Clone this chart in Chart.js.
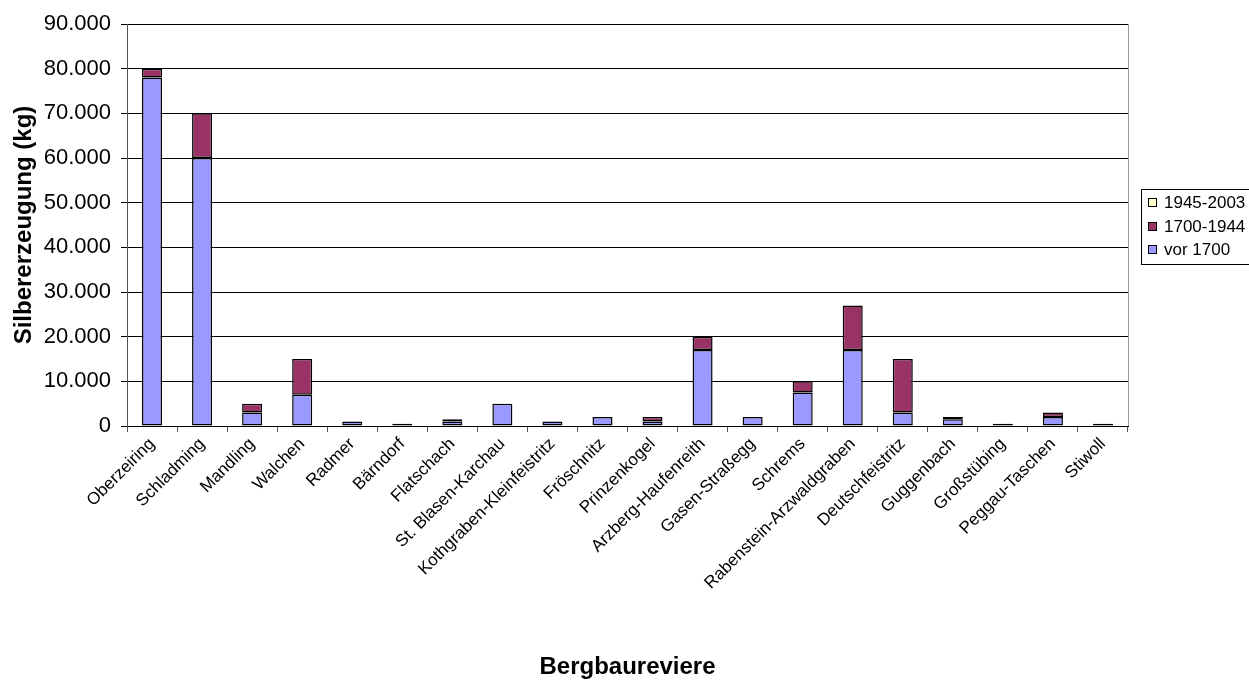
<!DOCTYPE html>
<html>
<head>
<meta charset="utf-8">
<title>Silbererzeugung nach Bergbaurevieren</title>
<script src="https://cdn.jsdelivr.net/npm/chart.js@4/dist/chart.umd.min.js"></script>
<style>
  html, body { margin: 0; padding: 0; background: #fff; }
  #wrap { width: 1249px; height: 682px; }
</style>
</head>
<body>
<div id="wrap"><canvas id="c" width="1249" height="682"></canvas></div>
<script>
// Bergbaureviere (Kategorien)
const reviere = ['Oberzeiring', 'Schladming', 'Mandling', 'Walchen', 'Radmer', 'Bärndorf',
  'Flatschach', 'St. Blasen-Karchau', 'Kothgraben-Kleinfeistritz', 'Fröschnitz',
  'Prinzenkogel', 'Arzberg-Haufenreith', 'Gasen-Straßegg', 'Schrems',
  'Rabenstein-Arzwaldgraben', 'Deutschfeistritz', 'Guggenbach', 'Großstübing',
  'Peggau-Taschen', 'Stiwoll'];

// Silbererzeugung in kg je Zeitraum
const vor1700   = [78000, 60000, 3000, 7000, 1000, 500, 1000, 5000, 1000, 2000,
                   1000, 17000, 2000, 7500, 17000, 3000, 1500, 0, 2000, 500];
const von1700   = [2000, 10000, 2000, 8000, 0, 0, 500, 0, 0, 0,
                   1000, 3000, 0, 2500, 10000, 12000, 500, 500, 1000, 0];
const von1945   = [0, 0, 0, 0, 0, 0, 0, 0, 0, 0,
                   0, 0, 0, 0, 0, 0, 0, 0, 0, 0];

const yTicks = [0, 10000, 20000, 30000, 40000, 50000, 60000, 70000, 80000, 90000];

const FONT = '"Liberation Sans", Arial, Helvetica, sans-serif';

const fmt = v => String(v).replace(/\B(?=(\d{3})+(?!\d))/g, '.');

const datasets = [
  { label: 'vor 1700',  data: vor1700, backgroundColor: '#9999FF' },
  { label: '1700-1944', data: von1700, backgroundColor: '#993366' },
  { label: '1945-2003', data: von1945, backgroundColor: '#FFFFCC' }
].map(d => Object.assign(d, {
  borderColor: '#000000',
  borderWidth: 1.5,
  borderSkipped: false,
  categoryPercentage: 1.0,
  barPercentage: 0.4
}));

// Rahmen rechts am Diagramm und Legende mit Kasten
const frameAndLegend = {
  id: 'frameAndLegend',
  afterDraw(chart) {
    const ctx = chart.ctx;
    const a = chart.chartArea;
    ctx.save();
    ctx.strokeStyle = '#9a9a9a';
    ctx.lineWidth = 1;
    ctx.beginPath();
    ctx.moveTo(a.right + 0.5, a.top);
    ctx.lineTo(a.right + 0.5, a.bottom);
    ctx.stroke();

    const items = chart.data.datasets.slice().reverse();
    const bx = 1141, by = 189, bw = 130, rowH = 23.5;
    const bh = 75;
    ctx.strokeStyle = '#000';
    ctx.lineWidth = 1;
    ctx.strokeRect(bx + 0.5, by + 0.5, bw, bh);
    ctx.font = '17px ' + FONT;
    ctx.textBaseline = 'middle';
    items.forEach((ds, i) => {
      const cy = Math.round(by + 13 + i * rowH);
      ctx.fillStyle = ds.backgroundColor;
      ctx.fillRect(bx + 7, cy - 4, 9, 9);
      ctx.strokeStyle = '#000';
      ctx.strokeRect(bx + 7.5, cy - 3.5, 8, 8);
      ctx.fillStyle = '#000';
      ctx.fillText(ds.label, bx + 23, cy + 1);
    });
    ctx.restore();
  }
};

new Chart(document.getElementById('c'), {
  type: 'bar',
  data: { labels: reviere, datasets },
  plugins: [frameAndLegend],
  options: {
    responsive: false,
    animation: false,
    devicePixelRatio: 1,
    layout: { padding: { left: 0, top: 24, right: 121, bottom: 0 } },
    plugins: { legend: { display: false }, tooltip: { enabled: false } },
    scales: {
      x: {
        stacked: true,
        afterFit(s) { s.height = 256; },
        border: { color: '#000', width: 1 },
        grid: { display: true, drawOnChartArea: false, drawTicks: true, tickLength: 6, color: '#555', offset: true },
        ticks: {
          color: '#000', font: { family: FONT, size: 17 },
          minRotation: 45, maxRotation: 45, autoSkip: false, padding: 2
        },
        title: {
          display: true, text: 'Bergbaureviere', color: '#000',
          font: { family: FONT, size: 24, weight: 'bold' },
          padding: { top: 0, bottom: 0 }
        }
      },
      y: {
        stacked: true,
        min: 0, max: 90000,
        afterFit(s) { s.width = 127; },
        afterBuildTicks(s) { s.ticks = yTicks.map(v => ({ value: v })); },
        border: { color: '#555', width: 1 },
        grid: { color: '#000', lineWidth: 1, tickLength: 6 },
        ticks: {
          color: '#000', font: { family: FONT, size: 22 }, padding: 10,
          callback: v => fmt(v)
        },
        title: {
          display: true, text: 'Silbererzeugung (kg)', color: '#000',
          font: { family: FONT, size: 24, weight: 'bold' },
          padding: { top: 10, bottom: 0 }
        }
      }
    }
  }
});
</script>
</body>
</html>
